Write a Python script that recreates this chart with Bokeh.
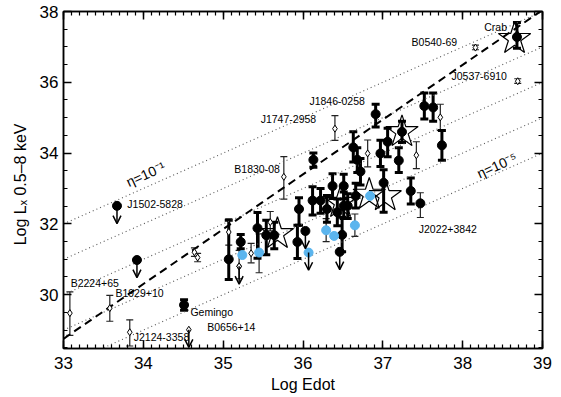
import math
from bokeh.plotting import figure
from bokeh.models import (ColumnDataSource, Whisker, TeeHead, Arrow, OpenHead, LinearAxis,
                          Range1d, SingleIntervalTicker, CustomJSTickFormatter)
from bokeh.core.properties import value
from bokeh.embed import file_html
from bokeh.resources import INLINE

FONT = "Liberation Sans"

# ---------------- data ----------------
# black filled circles with thick error bars: x, y, lower, upper
blk_x  = [35.07, 35.22, 35.43, 35.54, 35.64, 35.93, 35.95, 36.12, 36.22, 36.30, 36.43, 36.56,
          36.49, 36.66, 36.13, 36.63, 36.91, 36.97, 36.68, 36.72, 36.37, 36.51, 36.51, 37.01,
          37.06, 37.20, 37.35, 37.52, 37.63, 37.74, 37.24, 38.68, 34.51]
blk_y  = [31.00, 31.49, 31.88, 31.68, 31.68, 31.49, 32.42, 32.66, 32.66, 32.42, 32.33, 32.51,
          31.69, 32.79, 33.81, 34.16, 35.10, 33.99, 33.81, 33.48, 33.07, 33.07, 32.51, 33.16,
          34.32, 33.79, 32.93, 35.33, 35.29, 34.22, 34.60, 37.28, 29.71]
blk_lo = [30.43, 31.30, 31.03, 31.13, 31.30, 31.02, 31.96, 32.25, 32.30, 32.05, 31.95, 32.15,
          31.21, 32.45, 33.60, 33.75, 34.74, 33.62, 33.45, 33.10, 32.72, 32.70, 32.15, 32.33,
          33.90, 33.45, 32.56, 34.96, 34.90, 33.80, 34.30, 36.96, 29.56]
blk_hi = [32.10, 31.70, 32.32, 32.10, 32.05, 31.96, 32.74, 33.05, 33.00, 32.80, 32.70, 32.85,
          32.19, 33.15, 34.00, 34.60, 35.38, 34.36, 34.15, 33.85, 33.42, 33.40, 32.90, 33.53,
          34.70, 34.15, 33.30, 35.70, 35.70, 34.64, 34.90, 37.69, 29.86]

# black circles with thin error bars
bt_x, bt_y, bt_lo, bt_hi = [37.47], [32.58], [32.18], [32.88]

# black circles, upper limits
bul_x = [33.67, 33.92, 36.03, 36.46]
bul_y = [32.51, 30.98, 31.80, 31.21]

# light-blue circles
blu_x = [35.24, 35.45, 36.07, 36.29, 36.39, 36.65, 36.84]
blu_y = [31.12, 31.19, 31.19, 31.82, 31.66, 31.96, 32.79]
# light-blue with thin bars
blb_x  = [35.45, 36.29, 36.65]
blb_lo = [30.62, 31.50, 31.65]
blb_hi = [31.72, 32.15, 32.28]
# light-blue upper limit
blul_x, blul_y = [36.07], [31.19]

# open diamonds with thin error bars
dia_x  = [33.08, 33.58, 33.83, 34.64, 34.68, 35.07, 35.20, 35.35, 35.59, 35.76, 36.40,
          36.81, 37.42, 37.72, 38.16, 38.69]
dia_y  = [29.48, 29.62, 28.94, 31.20, 31.05, 31.77, 30.80, 31.17, 32.05, 33.33, 34.69,
          33.99, 33.94, 35.01, 36.98, 36.03]
dia_lo = [28.85, 29.25, 28.55, 31.08, 30.93, 31.40, 30.45, 30.90, 31.80, 32.70, 34.36,
          33.61, 33.56, 34.64, 36.92, 35.97]
dia_hi = [30.08, 29.98, 29.29, 31.32, 31.17, 32.14, 31.25, 31.45, 32.35, 33.90, 35.06,
          34.37, 34.32, 35.38, 37.05, 36.10]
# diamonds, upper limits
dul_x = [34.57, 35.20]
dul_y = [29.01, 30.80]

# large open stars
star_x = [38.65, 37.24, 36.83, 37.03, 35.68, 36.47]
star_y = [37.23, 34.60, 32.83, 32.79, 31.72, 32.60]

# pulsar names
lab_text = ["Crab", "B0540-69", "J0537-6910", "J1846-0258", "J1747-2958", "B1830-08",
            "J1502-5828", "B2224+65", "B1929+10", "Gemingo", "J2124-3358", "B0656+14",
            "J2022+3842"]
lab_x = [38.27, 37.36, 37.86, 36.08, 35.47, 35.14, 33.80, 33.09, 33.65, 34.59, 33.88, 34.80, 37.45]
lab_y = [37.56, 37.14, 36.17, 35.47, 34.96, 33.56, 32.56, 30.33, 30.06, 29.50, 28.81, 29.08, 31.86]

# efficiency lines  log Lx = log Edot + log(eta)
eta_exp = [-1, -2, -3, -4, -5]
eta_lab_text = ["\u03b7=10\u207b\u00b9", "\u03b7=10\u207b\u2075"]
eta_lab_x = [34.03, 38.43]
eta_lab_y = [33.40, 33.65]

# best fit (dashed)
fit_slope, fit_icpt = 1.548, -22.33

X0, X1 = 33.0, 39.0
Y0, Y1 = 28.48, 38.0
UL = 0.5  # upper-limit arrow length (dex)

# ---------------- figure ----------------
p = figure(width=561, height=397, output_backend="svg", toolbar_location=None,
           x_range=Range1d(X0, X1), y_range=Range1d(Y0, Y1),
           min_border_left=63, min_border_right=19, min_border_top=11, min_border_bottom=49)
p.xgrid.visible = False
p.ygrid.visible = False
p.outline_line_color = "black"
p.outline_line_width = 1.5
p.background_fill_color = "white"
p.border_fill_color = "white"

xt = SingleIntervalTicker(interval=1, num_minor_ticks=10)
yt = SingleIntervalTicker(interval=2, num_minor_ticks=4)
p.xaxis.ticker = xt
p.yaxis.ticker = yt

for ax in (p.xaxis[0], p.yaxis[0]):
    ax.major_tick_in = 8
    ax.major_tick_out = 0
    ax.minor_tick_in = 4
    ax.minor_tick_out = 0
    ax.axis_line_width = 1.5
    ax.major_tick_line_width = 1.5
    ax.minor_tick_line_width = 1.2
    ax.major_label_text_font = FONT
    ax.major_label_text_font_size = "17px"
    ax.major_label_text_color = "black"
    ax.axis_label_text_font = FONT
    ax.axis_label_text_font_size = "16px"
    ax.axis_label_text_font_style = "normal"
    ax.axis_label_text_color = "black"

p.xaxis.axis_label = "Log Edot"
p.xaxis.major_label_standoff = 8
p.xaxis.axis_label_standoff = 4
p.yaxis.axis_label = "Log L\u2093   0.5\u20138 keV"
p.yaxis.major_label_standoff = 5
p.yaxis.axis_label_standoff = 8
p.yaxis.major_label_orientation = "horizontal"

empty = CustomJSTickFormatter(code="return ''")
for loc, tk in (("above", xt), ("right", yt)):
    ax = LinearAxis(ticker=tk, formatter=empty)
    ax.major_tick_in = 8
    ax.major_tick_out = 0
    ax.minor_tick_in = 4
    ax.minor_tick_out = 0
    ax.axis_line_width = 1.5
    ax.major_tick_line_width = 1.5
    ax.minor_tick_line_width = 1.2
    ax.major_label_text_font_size = "1px"
    ax.major_label_standoff = 0
    p.add_layout(ax, loc)

# efficiency lines
for e in eta_exp:
    p.line([X0, X1], [X0 + e, X1 + e], line_color="#555555", line_width=1.1, line_dash="1 3")
p.text(x=eta_lab_x, y=eta_lab_y, text=eta_lab_text, angle=math.atan2(36.0, 79.8),
       text_font=value(FONT), text_font_size="14px", text_align="center",
       text_baseline="middle", text_color="black")

# best-fit dashed line
p.line([X0, X1], [fit_slope * X0 + fit_icpt, fit_slope * X1 + fit_icpt],
       line_color="black", line_width=2, line_dash="8 5")

# stars
p.scatter(star_x, star_y, marker="star", size=34, fill_color=None, line_color="black", line_width=1.2)

# whiskers
def whisk(xs, los, his, lw, head, color="black"):
    src = ColumnDataSource(dict(x=xs, lo=los, hi=his))
    w = Whisker(source=src, base="x", lower="lo", upper="hi", dimension="height",
                line_width=lw, line_color=color,
                upper_head=TeeHead(size=head, line_width=lw, line_color=color),
                lower_head=TeeHead(size=head, line_width=lw, line_color=color))
    p.add_layout(w)

whisk(dia_x, dia_lo, dia_hi, 1.2, 7, "#222222")
whisk(blb_x, blb_lo, blb_hi, 1.2, 7, "#222222")
whisk(bt_x, bt_lo, bt_hi, 1.2, 7, "#222222")
whisk(blk_x, blk_lo, blk_hi, 3, 8)

# upper limits
def arrows(xs, ys):
    src = ColumnDataSource(dict(x=xs, y=ys, ye=[v - UL for v in ys]))
    a = Arrow(source=src, x_start="x", y_start="y", x_end="x", y_end="ye",
              line_width=1.5, line_color="black",
              end=OpenHead(size=8, line_width=1.5, line_color="black"))
    p.add_layout(a)

arrows(bul_x, bul_y)
arrows(blul_x, blul_y)
arrows(dul_x, dul_y)

# markers
p.scatter(dia_x + dul_x, dia_y + dul_y, marker="diamond", size=7, fill_color="white",
          line_color="black", line_width=1)
p.scatter(blk_x + bt_x + bul_x, blk_y + bt_y + bul_y, marker="circle", size=9,
          fill_color="black", line_color="black")
p.scatter(blu_x, blu_y, marker="circle", size=9, fill_color="#5bb5ee", line_color="#5bb5ee")

# names
p.text(x=lab_x, y=lab_y, text=lab_text, text_font=value(FONT), text_font_size="10.5px",
       text_align="left", text_baseline="middle", text_color="black")

open("out.html", "w").write(file_html(p, INLINE))
